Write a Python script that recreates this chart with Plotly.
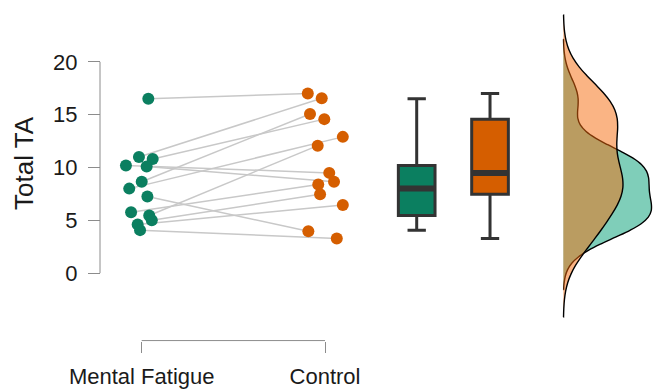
import numpy as np
import plotly.graph_objects as go

# ---- data ----
groups = ["Mental Fatigue", "Control"]
# paired values (one entry per participant, same order in both lists)
mental_fatigue = [16.5, 11.0, 10.8, 8.65, 8.0, 5.46, 10.2, 10.1, 7.25, 5.77, 5.0, 4.6, 4.07]
control = [17.0, 16.56, 14.58, 15.07, 12.9, 12.07, 9.49, 8.65, 3.97, 8.4, 7.47, 6.45, 3.28]
# horizontal jitter of each point (category units)
mf_jitter = [0.036, -0.015, 0.060, 0.0, -0.068, 0.041, -0.086, 0.027, 0.031, -0.058, 0.055, -0.022, -0.009]
ctrl_jitter = [-0.094, -0.018, -0.004, -0.082, 0.097, -0.040, 0.023, 0.049, -0.091, -0.037, -0.027, 0.097, 0.064]
y_ticks = [0, 5, 10, 15, 20]
y_title = "Total TA"

# ---- styling / layout constants ----
TEAL = "#0B7F60"
ORANGE = "#D55E00"
TEAL_FILL = "rgba(0,158,115,0.5)"
ORANGE_FILL = "rgba(245,105,10,0.5)"
POINT_POS = [1.0, 2.0]
BOX_POS = [2.5, 2.9]
DENS_POS = 3.3
DENS_MAX_WIDTH = 0.96
FONT = "Liberation Sans, Arial, Helvetica, sans-serif"

W, H = 653, 389

fig = go.Figure()

# connecting lines between paired observations
lx, ly = [], []
for a, b, ja, jb in zip(mental_fatigue, control, mf_jitter, ctrl_jitter):
    lx += [POINT_POS[0] + ja, POINT_POS[1] + jb, None]
    ly += [a, b, None]
fig.add_trace(go.Scatter(x=lx, y=ly, mode="lines",
                         line=dict(color="#C8C8C8", width=1.5),
                         hoverinfo="skip", showlegend=False))

# points
for vals, jit, pos, col in [(mental_fatigue, mf_jitter, POINT_POS[0], TEAL),
                            (control, ctrl_jitter, POINT_POS[1], ORANGE)]:
    fig.add_trace(go.Scatter(x=[pos + j for j in jit], y=vals, mode="markers",
                             marker=dict(color=col, size=12, line=dict(width=0)),
                             showlegend=False, hoverinfo="y"))

# boxplots (R-style quartiles)
for vals, pos, col in [(mental_fatigue, BOX_POS[0], TEAL), (control, BOX_POS[1], ORANGE)]:
    v = np.asarray(vals)
    q1, med, q3 = np.percentile(v, [25, 50, 75])
    iqr = q3 - q1
    lo = v[v >= q1 - 1.5 * iqr].min()
    hi = v[v <= q3 + 1.5 * iqr].max()
    fig.add_trace(go.Box(x=[pos], q1=[q1], median=[med], q3=[q3],
                         lowerfence=[lo], upperfence=[hi],
                         fillcolor=col, line=dict(color="#333333", width=3),
                         width=0.2, whiskerwidth=0.5, boxpoints=False,
                         showlegend=False, hoverinfo="skip"))
    fig.add_trace(go.Scatter(x=[pos - 0.1, pos + 0.1], y=[med, med], mode="lines",
                             line=dict(color="#333333", width=6),
                             showlegend=False, hoverinfo="skip"))


def bw_nrd0(vals):
    v = np.asarray(vals)
    sd = v.std(ddof=1)
    q75, q25 = np.percentile(v, [75, 25])
    return 0.9 * min(sd, (q75 - q25) / 1.34) * len(v) ** -0.2


def kde_peak(vals, bw):
    v = np.asarray(vals)
    grid = np.linspace(v.min() - 3 * bw, v.max() + 3 * bw, 512)
    dens = np.exp(-0.5 * ((grid[:, None] - v[None, :]) / bw) ** 2).sum(axis=1)
    return dens.max() / (len(v) * bw * np.sqrt(2 * np.pi))


# half-violin densities; widths keep the densities on one common scale
series = [(mental_fatigue, TEAL_FILL), (control, ORANGE_FILL)]
bws = [bw_nrd0(v) for v, _ in series]
peaks = [kde_peak(v, b) for (v, _), b in zip(series, bws)]
top = max(peaks)
for (vals, fill), bw, pk in zip(series, bws, peaks):
    fig.add_trace(go.Violin(y=vals, x0=DENS_POS, side="positive",
                            bandwidth=bw, spanmode="manual",
                            span=[min(vals) - 3 * bw, max(vals) + 3 * bw],
                            fillcolor=fill, line=dict(color="black", width=1.4),
                            points=False, box_visible=False, meanline_visible=False,
                            scalemode="width", width=DENS_MAX_WIDTH * pk / top,
                            showlegend=False, hoverinfo="skip"))

axis_grey = "#8C8C8C"
fig.update_layout(
    width=W, height=H,
    margin=dict(l=0, r=0, t=0, b=0),
    paper_bgcolor="white", plot_bgcolor="white",
    font=dict(family=FONT, color="#1A1A1A"),
    showlegend=False,
    boxmode="overlay", violinmode="overlay",
    xaxis=dict(type="linear", range=[0.227, 3.789], domain=[0, 1],
               anchor="free", position=1 - 345 / H,
               tickvals=POINT_POS, ticktext=groups,
               ticks="outside", ticklen=11, tickwidth=1, tickcolor=axis_grey,
               showline=False, showgrid=False, zeroline=False,
               tickfont=dict(size=22, family=FONT, color="#1A1A1A"),
               ticklabelstandoff=5),
    yaxis=dict(range=[-10.50, 25.86], domain=[0, 1],
               anchor="free", position=100 / W,
               tickvals=y_ticks, ticks="outside", ticklen=12, tickwidth=1,
               tickcolor=axis_grey, showline=False, showgrid=False, zeroline=False,
               tickfont=dict(size=22, family=FONT, color="#1A1A1A"),
               ticklabelstandoff=6),
    shapes=[
        dict(type="line", xref="paper", yref="y", x0=100 / W, x1=100 / W,
             y0=y_ticks[0], y1=y_ticks[-1], line=dict(color=axis_grey, width=1)),
        dict(type="line", xref="x", yref="paper", x0=POINT_POS[0], x1=POINT_POS[1],
             y0=1 - 345 / H, y1=1 - 345 / H, line=dict(color=axis_grey, width=1)),
    ],
    annotations=[
        dict(text=y_title, xref="paper", yref="paper", x=24 / W, y=1 - 165 / H,
             textangle=-90, showarrow=False, font=dict(size=26, family=FONT, color="#1A1A1A"),
             xanchor="center", yanchor="middle"),
    ],
)

fig.write_html("out.html",
               config={"displayModeBar": False},
               post_script="document.documentElement.style.margin='0';"
                           "document.body.style.margin='0';"
                           "document.body.style.overflow='hidden';")
